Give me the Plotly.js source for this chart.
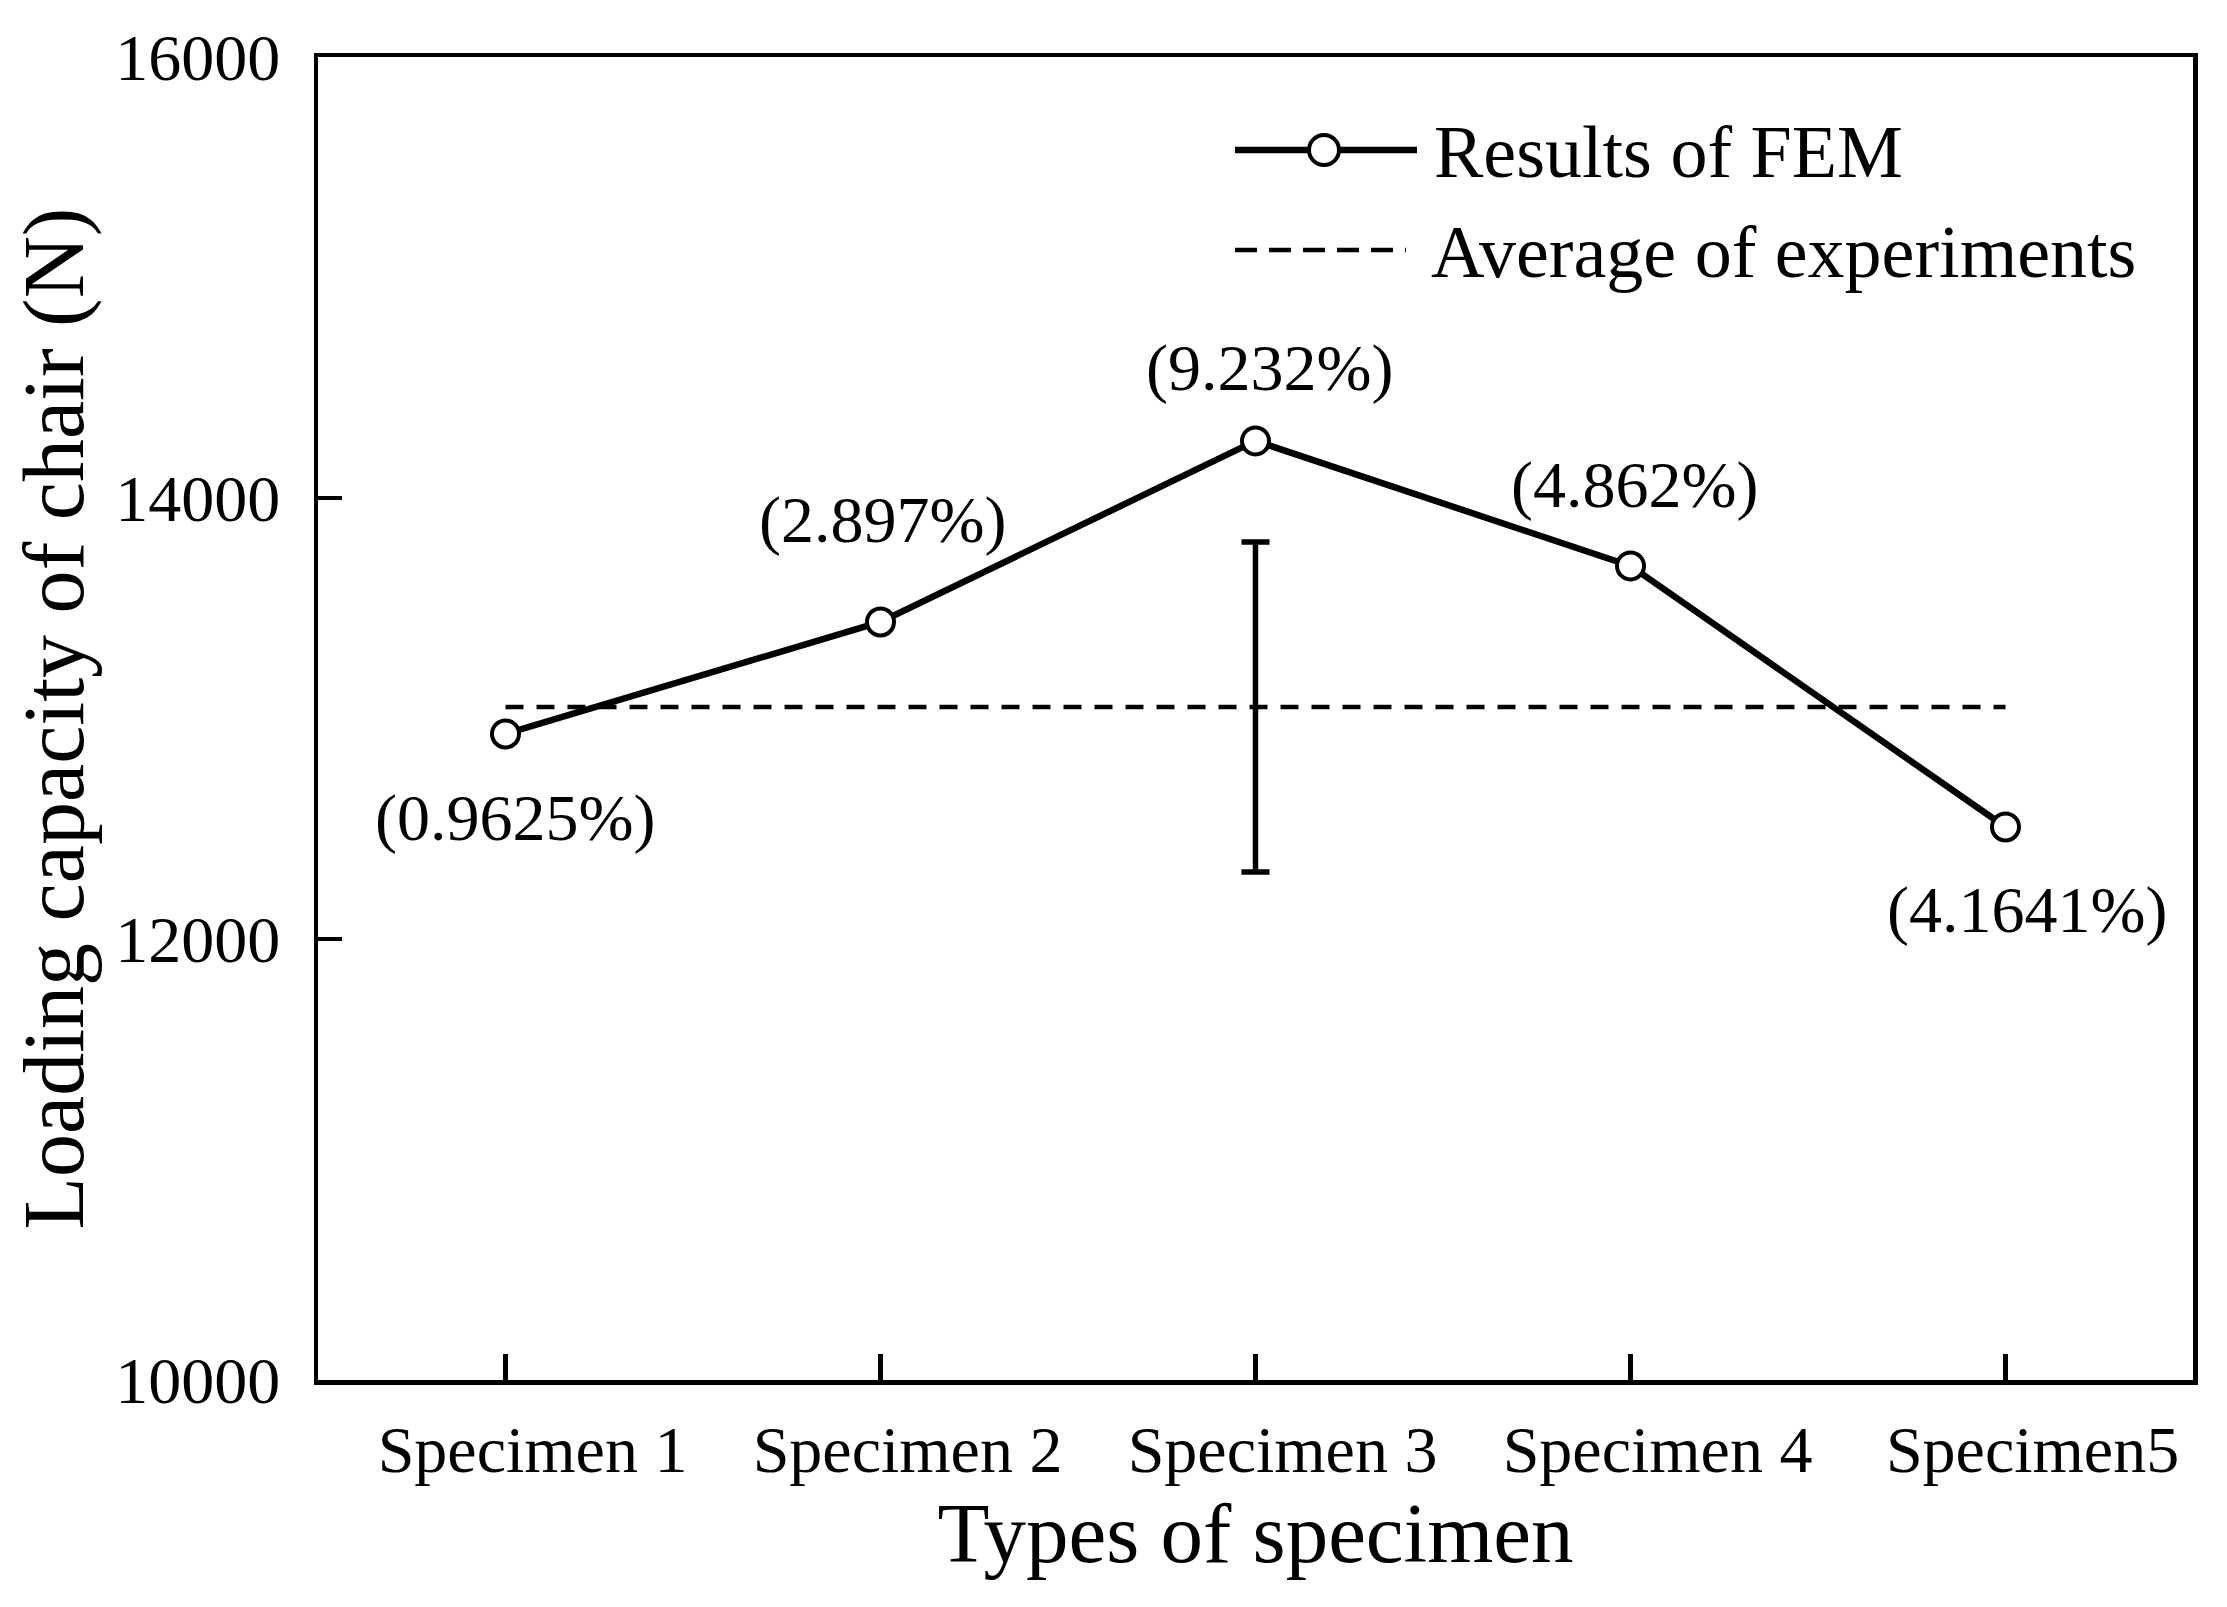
<!DOCTYPE html>
<html>
<head>
<meta charset="utf-8">
<script src="https://cdn.plot.ly/plotly-3.0.1.min.js"></script>
<style>
  html, body { margin: 0; padding: 0; background: #ffffff; }
  #chart { width: 2227px; height: 1607px; }
</style>
</head>
<body>
<div id="chart"></div>
<script>
// ---- data ----
const categories = ["Specimen 1", "Specimen 2", "Specimen 3", "Specimen 4", "Specimen5"];
const femValues = [12930, 13438, 14259, 13692, 12508];
const percentLabels = ["(0.9625%)", "(2.897%)", "(9.232%)", "(4.862%)", "(4.1641%)"];
const avgValue = 13052;
const expError = 748;
const errorCategory = "Specimen 3";
const seriesNames = ["Results of FEM", "Average of experiments"];

// ---- styling (pixel offsets of the percentage labels relative to their points) ----
const labelXShift = [9, 2, 14, 4, 21];
const labelYShift = [-84, 102, 73, 81, -83];

const FONT = "Liberation Serif, Times New Roman, serif";

// plot-area geometry (px) used to place the hand-drawn legend
const PLOT = { l: 318, r: 34, t: 57, b: 227, W: 2227, H: 1607 };
const pw = PLOT.W - PLOT.l - PLOT.r;
const ph = PLOT.H - PLOT.t - PLOT.b;
const px2x = p => (p - PLOT.l) / pw;
const px2y = p => (PLOT.H - PLOT.b - p) / ph;

const traces = [
  {
    x: [categories[0], categories[categories.length - 1]],
    y: [avgValue, avgValue],
    type: "scatter",
    mode: "lines",
    name: seriesNames[1],
    line: { color: "#000", width: 4.5, dash: "18px,13px" },
    hoverinfo: "skip"
  },
  {
    x: [errorCategory],
    y: [avgValue],
    type: "scatter",
    mode: "markers",
    name: "Experiment range",
    marker: { size: 1, color: "rgba(0,0,0,0)" },
    error_y: { type: "data", array: [expError], visible: true, color: "#000", thickness: 5.5, width: 14 },
    hoverinfo: "skip"
  },
  {
    x: categories,
    y: femValues,
    type: "scatter",
    mode: "lines+markers",
    name: seriesNames[0],
    line: { color: "#000", width: 6.5 },
    marker: { symbol: "circle", size: 27, color: "#fff", line: { color: "#000", width: 4 } }
  }
];

const annotations = categories.map((c, i) => ({
  x: c,
  y: femValues[i],
  xref: "x",
  yref: "y",
  text: percentLabels[i],
  showarrow: false,
  xanchor: "center",
  yanchor: "middle",
  xshift: labelXShift[i],
  yshift: labelYShift[i],
  font: { family: FONT, size: 66, color: "#000" }
}));

// legend (drawn by hand so the sample line and marker match the figure)
const legRow1 = 150, legRow2 = 250;
annotations.push(
  { xref: "paper", yref: "paper", x: px2x(1432), y: px2y(152), text: seriesNames[0], showarrow: false,
    xanchor: "left", yanchor: "middle", font: { family: FONT, size: 74, color: "#000" } },
  { xref: "paper", yref: "paper", x: px2x(1429), y: px2y(252), text: seriesNames[1], showarrow: false,
    xanchor: "left", yanchor: "middle", font: { family: FONT, size: 74, color: "#000" } }
);
const shapes = [
  { type: "line", xref: "paper", yref: "paper", x0: px2x(1235), x1: px2x(1417), y0: px2y(legRow1), y1: px2y(legRow1),
    line: { color: "#000", width: 6.5 } },
  { type: "circle", xref: "paper", yref: "paper", xsizemode: "pixel", ysizemode: "pixel",
    xanchor: px2x(1324), yanchor: px2y(legRow1), x0: -15, x1: 15, y0: -15, y1: 15,
    fillcolor: "#fff", line: { color: "#000", width: 4 } },
  { type: "line", xref: "paper", yref: "paper", x0: px2x(1235), x1: px2x(1406), y0: px2y(legRow2), y1: px2y(legRow2),
    line: { color: "#000", width: 4.5, dash: "22px,12px" } }
];

const layout = {
  width: PLOT.W,
  height: PLOT.H,
  paper_bgcolor: "#fff",
  plot_bgcolor: "#fff",
  margin: { l: PLOT.l, r: PLOT.r, t: PLOT.t, b: PLOT.b, pad: 0 },
  font: { family: FONT, color: "#000" },
  showlegend: false,
  xaxis: {
    type: "category",
    categoryorder: "array",
    categoryarray: categories,
    range: [-0.5, 4.5],
    showline: true, linewidth: 4.5, linecolor: "#000", mirror: true,
    ticks: "inside", ticklen: 26, tickwidth: 4.5, tickcolor: "#000",
    tickfont: { family: FONT, size: 66, color: "#000" },
    ticklabelstandoff: 8,
    ticklabelshift: 27,
    showgrid: false, zeroline: false,
    title: { text: "Types of specimen", font: { family: FONT, size: 85, color: "#000" }, standoff: 6 }
  },
  yaxis: {
    range: [10000, 16000],
    tickmode: "linear", tick0: 10000, dtick: 2000,
    tickformat: "d",
    showline: true, linewidth: 4.5, linecolor: "#000", mirror: true,
    ticks: "inside", ticklen: 24, tickwidth: 4.5, tickcolor: "#000",
    tickfont: { family: FONT, size: 66, color: "#000" },
    ticklabelstandoff: 20,
    showgrid: false, zeroline: false,
    title: { text: "Loading capacity of chair (N)", font: { family: FONT, size: 86, color: "#000" }, standoff: 4 }
  },
  annotations: annotations,
  shapes: shapes
};

Plotly.newPlot("chart", traces, layout, { staticPlot: true, displayModeBar: false });
</script>
</body>
</html>
